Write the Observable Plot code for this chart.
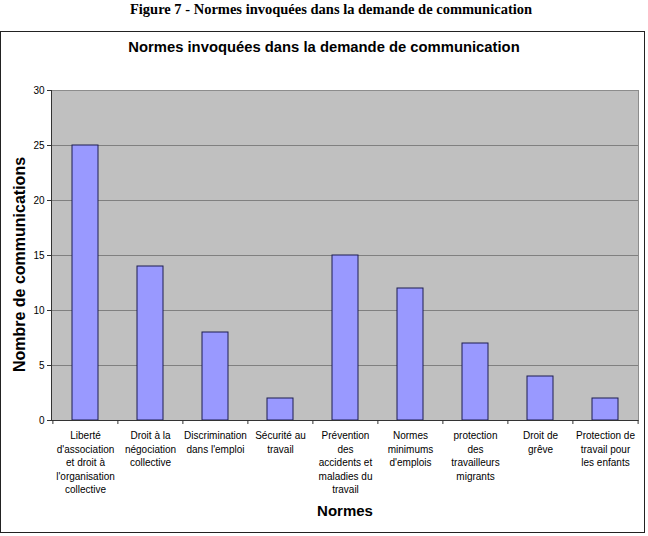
<!DOCTYPE html>
<html>
<head>
<meta charset="utf-8">
<script src="https://cdn.jsdelivr.net/npm/d3@7"></script>
<script src="https://cdn.jsdelivr.net/npm/@observablehq/plot@0.6"></script>
<style>
  body { margin: 0; width: 648px; height: 536px; position: relative; overflow: hidden; background: #fff; font-family: "Liberation Sans", Arial, sans-serif; }
  #cap { position: absolute; top: 1px; left: 0; width: 662px; text-align: center; font: bold 14.5px/16px "Liberation Serif", "Times New Roman", serif; color: #000; }
  #box { position: absolute; left: 0px; top: 31px; width: 643px; height: 500px; border: 1.5px solid #222; }
  #title { position: absolute; top: 39px; left: 0; width: 648px; text-align: center; font: bold 14.8px "Liberation Sans", Arial, sans-serif; color: #000; }
  #chart { position: absolute; left: 0; top: 70px; }
</style>
</head>
<body>
<div id="cap">Figure 7 - Normes invoquées dans la demande de communication</div>
<div id="box"></div>
<div id="title">Normes invoquées dans la demande de communication</div>
<div id="chart"></div>
<script>
const categories = [
  "Liberté\nd'association\net droit à\nl'organisation\ncollective",
  "Droit à la\nnégociation\ncollective",
  "Discrimination\ndans l'emploi",
  "Sécurité au\ntravail",
  "Prévention\ndes\naccidents et\nmaladies du\ntravail",
  "Normes\nminimums\nd'emplois",
  "protection\ndes\ntravailleurs\nmigrants",
  "Droit de\ngrêve",
  "Protection de\ntravail pour\nles enfants"
];
const values = [25, 14, 8, 2, 15, 12, 7, 4, 2];
const yTicks = [0, 5, 10, 15, 20, 25, 30];
const gridTicks = [5, 10, 15, 20, 25];
const yLabel = "Nombre de communications";
const xLabel = "Normes";

const data = categories.map((c, i) => ({cat: c, value: values[i]}));

const W = 648, H = 455, mL = 51, mR = 10, mT = 20, mB = 105;
const step = (W - mL - mR) / categories.length;

const chart = Plot.plot({
  width: W,
  height: H,
  marginTop: mT,
  marginLeft: mL,
  marginRight: mR,
  marginBottom: mB,
  style: {fontFamily: "'Liberation Sans', Arial, sans-serif", fontSize: "10px", background: "transparent", overflow: "visible", color: "#000"},
  x: {domain: categories, paddingInner: 0.6, paddingOuter: 0.3, label: null},
  y: {domain: [0, 30], label: null},
  marks: [
    Plot.frame({fill: "#c0c0c0", stroke: "#8c8c8c"}),
    Plot.gridY(gridTicks, {stroke: "#808080", strokeOpacity: 1}),
    Plot.barY(data, {x: "cat", y: "value", fill: "#9999ff", stroke: "#1c1c50", strokeWidth: 1}),
    Plot.ruleY([0], {stroke: "#333"}),
    Plot.frame({anchor: "left", stroke: "#333"}),
    Plot.axisY(yTicks, {tickSize: 4, tickPadding: 3, stroke: "#333", label: null, fontSize: 10}),
    Plot.axisX({tickSize: 0, tickPadding: 9, lineHeight: 1.35, fontSize: 10, label: null}),
    Plot.ruleX(categories, {x: d => d, dx: -step / 2, y1: 0, y2: 0, insetBottom: -4, stroke: "#333"}),
    Plot.ruleX(categories.slice(-1), {x: d => d, dx: step / 2, y1: 0, y2: 0, insetBottom: -4, stroke: "#333"}),
    Plot.text([yLabel], {frameAnchor: "left", text: d => d, rotate: -90, textAnchor: "middle", dx: -32, dy: 9, fontSize: 16, fontWeight: "bold", fill: "#000"}),
    Plot.text([xLabel], {frameAnchor: "bottom", text: d => d, dy: 95, fontSize: 15, fontWeight: "bold", fill: "#000"})
  ]
});
document.getElementById("chart").append(chart);
</script>
</body>
</html>
